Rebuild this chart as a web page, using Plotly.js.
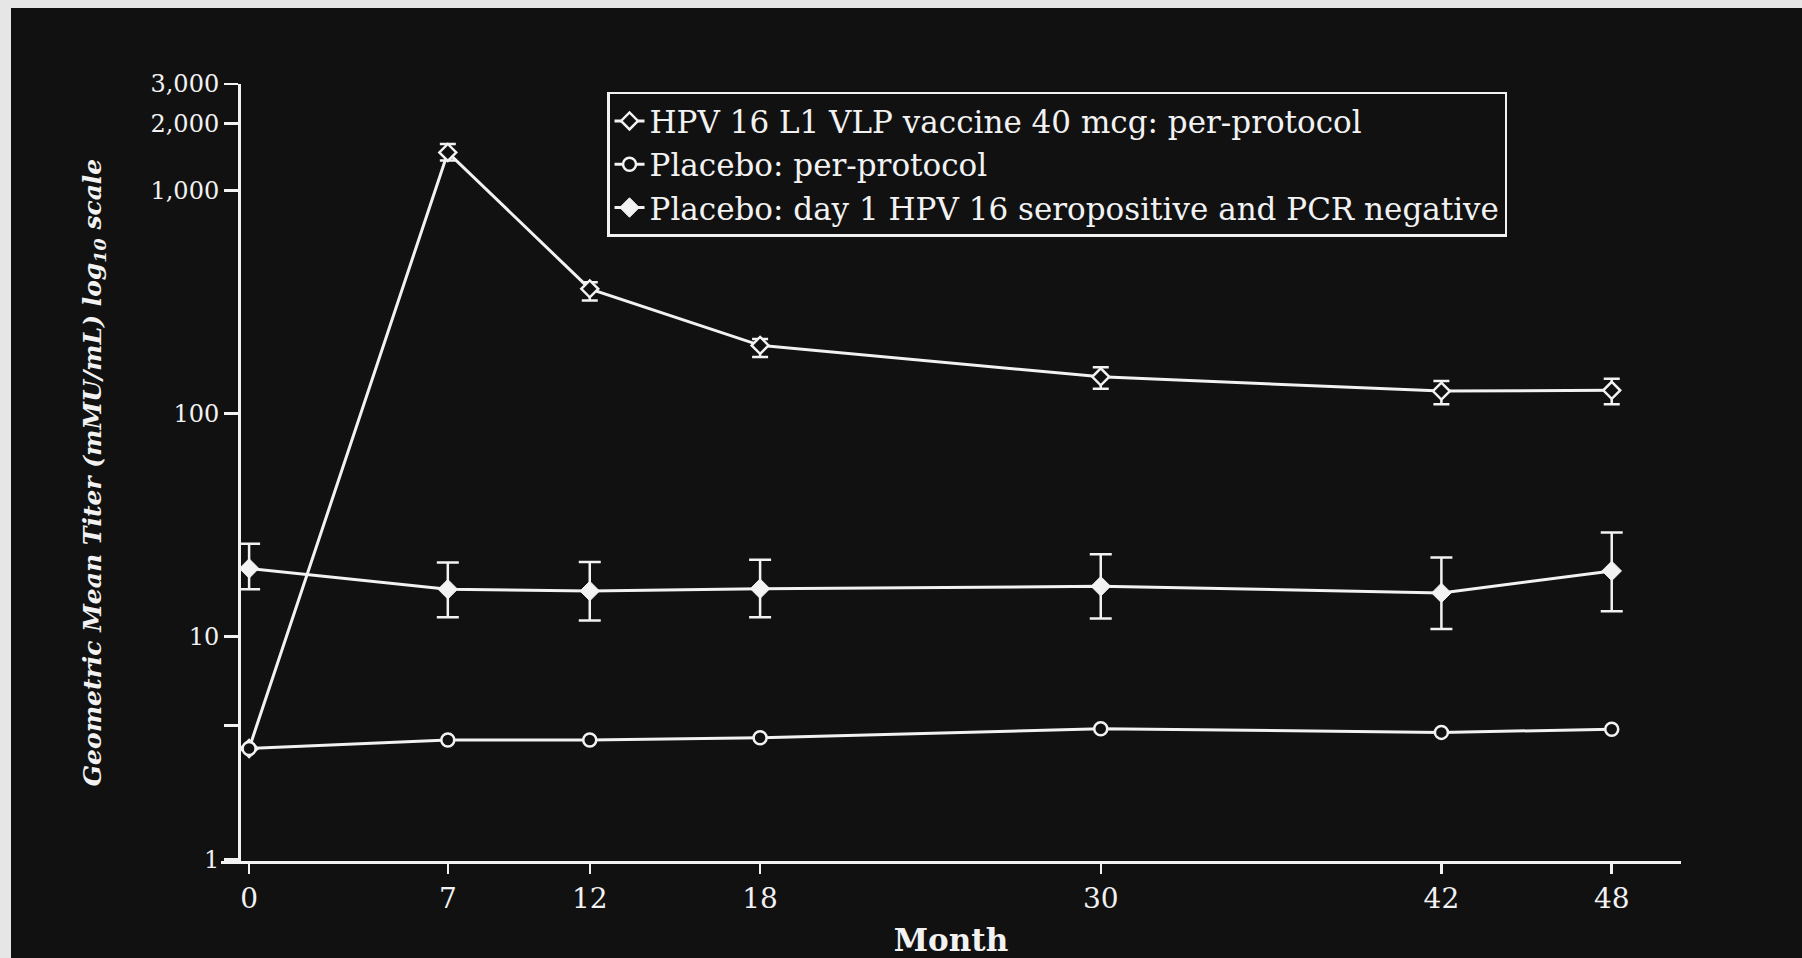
<!DOCTYPE html>
<html>
<head>
<meta charset="utf-8">
<script src="https://cdn.plot.ly/plotly-3.0.1.min.js"></script>
<style>
  html, body { margin: 0; padding: 0; background: #e6e6e6; width: 1802px; height: 958px; overflow: hidden; }
  #chart { position: absolute; left: 11px; top: 8px; width: 1791px; height: 950px; }
</style>
</head>
<body>
<div id="chart"></div>
<script>
// ---- data ----
const months = [0, 7, 12, 18, 30, 42, 48];

const vaccineGMT   = [3.15, 1480, 362, 202, 146, 126, 127];
const vaccineUpper = [3.15, 1616, 388, 216, 161, 140, 143];
const vaccineLower = [3.15, 1360, 321, 179, 129, 110, 110];

const placeboGMT = [3.15, 3.44, 3.44, 3.52, 3.86, 3.72, 3.84];

const seroGMT   = [20.2, 16.3, 16.0, 16.4, 16.8, 15.7, 19.7];
const seroUpper = [26.1, 21.5, 21.6, 22.1, 23.4, 22.6, 29.3];
const seroLower = [16.3, 12.2, 11.8, 12.2, 12.05, 10.8, 13.0];

const seriesNames = [
  'HPV 16 L1 VLP vaccine 40 mcg: per-protocol',
  'Placebo: per-protocol',
  'Placebo: day 1 HPV 16 seropositive and PCR negative'
];

const yTickVals = [1, 10, 100, 1000, 2000, 3000];
const yTickText = ['1', '10', '100', '1,000', '2,000', '3,000'];
const yMinorTickVals = [4];

const xTitle = 'Month';
const yTitle = 'Geometric Mean Titer (mMU/mL) log<sub>10</sub> scale';

// ---- helpers ----
const diff = (a, b) => a.map((v, i) => v - b[i]);
const FG = '#f2f2f2';
const BG = '#111111';
const FONT = '"DejaVu Serif", "Liberation Serif", serif';

const traces = [
  {
    x: months, y: vaccineGMT, name: seriesNames[0],
    type: 'scatter', mode: 'lines+markers',
    line: { color: FG, width: 3 },
    marker: { symbol: 'diamond', size: 13, color: BG, line: { color: FG, width: 2.5 } },
    error_y: { type: 'data', symmetric: false,
      array: diff(vaccineUpper, vaccineGMT), arrayminus: diff(vaccineGMT, vaccineLower),
      color: FG, thickness: 2.5, width: 8 }
  },
  {
    x: months, y: placeboGMT, name: seriesNames[1],
    type: 'scatter', mode: 'lines+markers',
    line: { color: FG, width: 3 },
    marker: { symbol: 'circle', size: 13, color: BG, line: { color: FG, width: 2.5 } }
  },
  {
    x: months, y: seroGMT, name: seriesNames[2],
    type: 'scatter', mode: 'lines+markers',
    line: { color: FG, width: 3 },
    marker: { symbol: 'diamond', size: 15, color: FG, line: { color: FG, width: 1 } },
    error_y: { type: 'data', symmetric: false,
      array: diff(seroUpper, seroGMT), arrayminus: diff(seroGMT, seroLower),
      color: FG, thickness: 2.5, width: 11 }
  }
];

const layout = {
  width: 1791, height: 950,
  paper_bgcolor: BG, plot_bgcolor: BG,
  margin: { l: 210, r: 121, t: 76, b: 97 },
  font: { family: FONT, color: FG, size: 24 },
  showlegend: true,
  legend: {
    x: 0.2644, y: 0.99, xanchor: 'left', yanchor: 'top',
    bgcolor: BG, bordercolor: FG, borderwidth: 2.5,
    font: { family: FONT, size: 31, color: FG }
  },
  xaxis: {
    range: [-0.99, 50.44],
    tickvals: months, ticktext: months.map(String),
    showline: true, linecolor: FG, linewidth: 3,
    ticks: 'outside', ticklen: 10, tickwidth: 2.5, tickcolor: FG,
    showgrid: false, zeroline: false,
    tickfont: { family: FONT, size: 28, color: FG },
    title: { text: '<b>' + xTitle + '</b>', font: { family: FONT, size: 31, color: FG }, standoff: 22 }
  },
  yaxis: {
    type: 'log', range: [-0.006, 3.477],
    anchor: 'free', position: 0.01233,
    tickvals: yTickVals, ticktext: yTickText,
    minor: { tickvals: yMinorTickVals, ticks: 'outside', ticklen: 14, tickwidth: 2.5, tickcolor: FG, showgrid: false },
    showline: true, linecolor: FG, linewidth: 3,
    ticks: 'outside', ticklen: 14, tickwidth: 2.5, tickcolor: FG,
    showgrid: false, zeroline: false,
    tickfont: { family: FONT, size: 24, color: FG },
    title: { text: '<b><i>' + yTitle + '</i></b>', font: { family: FONT, size: 25, color: FG }, standoff: 40 }
  }
};

Plotly.newPlot('chart', traces, layout, { staticPlot: true, displayModeBar: false });
</script>
</body>
</html>
